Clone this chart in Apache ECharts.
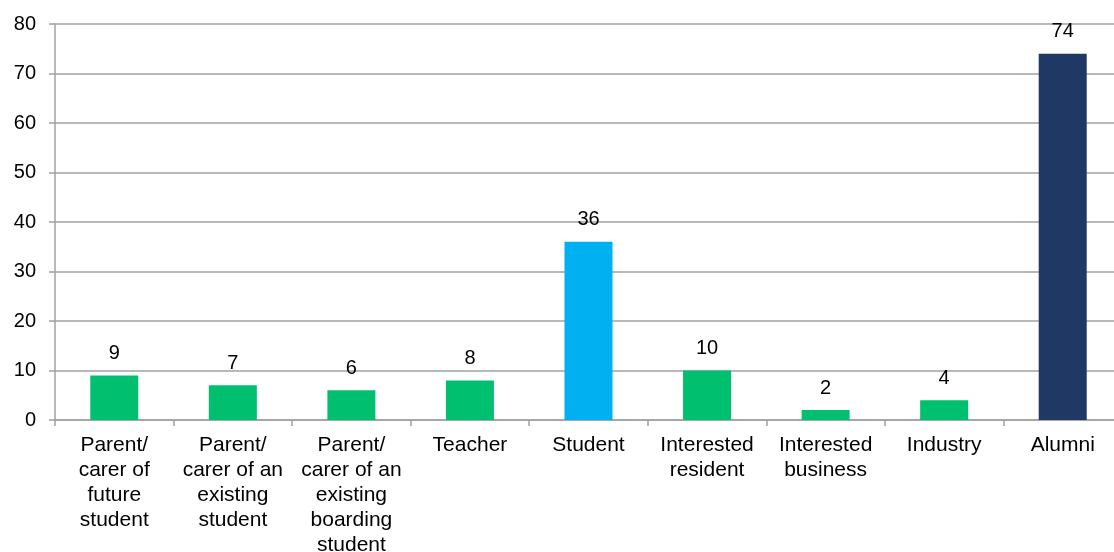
<!DOCTYPE html>
<html>
<head>
<meta charset="utf-8">
<script src="https://cdn.jsdelivr.net/npm/echarts@6/dist/echarts.min.js"></script>
<style>html,body{margin:0;padding:0;background:#fff;}#c{width:1114px;height:552px;}</style>
</head>
<body>
<div id="c"></div>
<script>
var categories = [
  "Parent/\ncarer of\nfuture\nstudent",
  "Parent/\ncarer of an\nexisting\nstudent",
  "Parent/\ncarer of an\nexisting\nboarding\nstudent",
  "Teacher",
  "Student",
  "Interested\nresident",
  "Interested\nbusiness",
  "Industry",
  "Alumni"
];
var values = [9, 7, 6, 8, 36, 10, 2, 4, 74];
var barColors = ["#00BF6F", "#00BF6F", "#00BF6F", "#00BF6F", "#00B0F0", "#00BF6F", "#00BF6F", "#00BF6F", "#1F3864"];

var chart = echarts.init(document.getElementById('c'));
var font = "Liberation Sans, Arial, sans-serif";
chart.setOption({
  animation: false,
  grid: { left: 55, width: 1067, top: 24, height: 396, outerBoundsMode: 'none', containLabel: false },
  xAxis: {
    type: 'category',
    data: categories,
    axisLine: { show: true, lineStyle: { color: '#A0A0A0', width: 1.5 } },
    axisTick: { show: true, length: 6, lineStyle: { color: '#A0A0A0', width: 1.5 } },
    axisLabel: { interval: 0, color: '#000', fontFamily: font, fontSize: 21, lineHeight: 25, margin: 13 }
  },
  yAxis: {
    type: 'value',
    min: 0, max: 80, interval: 10,
    axisLine: { show: true, lineStyle: { color: '#A0A0A0', width: 1.5 } },
    axisTick: { show: true, length: 6, lineStyle: { color: '#A0A0A0', width: 1.5 } },
    axisLabel: { color: '#000', fontFamily: font, fontSize: 20, margin: 19 },
    splitLine: { show: true, lineStyle: { color: '#A0A0A0', width: 1.5 } }
  },
  series: [{
    type: 'bar',
    barWidth: 48,
    data: values.map(function (v, i) { return { value: v, itemStyle: { color: barColors[i] } }; }),
    label: { show: true, position: 'top', distance: 12, color: '#000', fontFamily: font, fontSize: 20 }
  }]
});
</script>
</body>
</html>
